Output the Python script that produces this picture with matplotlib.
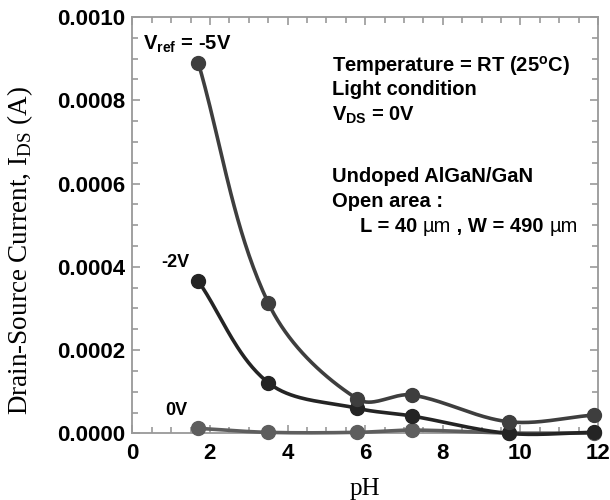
import numpy as np
import matplotlib
matplotlib.use('Agg')
import matplotlib.pyplot as plt
from matplotlib.ticker import MultipleLocator, FormatStrFormatter

plt.rcParams['font.family'] = ['Liberation Sans', 'DejaVu Sans']
plt.rcParams['mathtext.fontset'] = 'custom'
plt.rcParams['mathtext.rm'] = 'Liberation Serif'
plt.rcParams['mathtext.bf'] = 'Liberation Sans:bold'
plt.rcParams['mathtext.default'] = 'bf'

# data
ph = [1.7, 3.5, 5.8, 7.2, 9.7, 11.9]
ids_m5 = [0.000890, 0.000314, 0.0000826, 0.0000922, 0.000028, 0.0000442]
ids_m2 = [0.000366, 0.000122, 0.0000602, 0.0000418, 0.0, 0.0000025]
ids_0 = [0.0000122, 0.0000025, 0.0000025, 0.000008, 0.000001, 0.000001]

series = [
    ('0V', ids_0, '#5e5e5e'),
    ('-2V', ids_m2, '#242424'),
    ('-5V', ids_m5, '#3e3e3e'),
]


def smooth_line(x, y, sx=38.8, sy=416700.0, n=40):
    """smoothed line: bezier segments, tangent from the neighbours,
    arm length from the segment length (worked out in screen-like units)"""
    p = np.column_stack([np.asarray(x) * sx, np.asarray(y) * sy]).astype(float)
    k = len(p)
    tang = np.zeros_like(p)
    for i in range(k):
        a = p[max(i - 1, 0)]
        b = p[min(i + 1, k - 1)]
        d = b - a
        tang[i] = d / np.hypot(*d)
    t = np.linspace(0, 1, n)[:, None]
    out = []
    for i in range(k - 1):
        p1, p2 = p[i], p[i + 1]
        L = np.hypot(*(p2 - p1))
        c1 = p1 + tang[i] * L / 3
        c2 = p2 - tang[i + 1] * L / 3
        seg = ((1 - t) ** 3 * p1 + 3 * (1 - t) ** 2 * t * c1
               + 3 * (1 - t) * t ** 2 * c2 + t ** 3 * p2)
        out.append(seg)
    out = np.vstack(out)
    return out[:, 0] / sx, out[:, 1] / sy


fig = plt.figure(figsize=(6.1, 5.0), dpi=100)
ax = fig.add_axes([0.2169, 0.1332, 0.7634, 0.8328])

for name, vals, col in series:
    xs, ys = smooth_line(ph, vals)
    ax.plot(xs, ys, color=col, lw=2.6, clip_on=False, zorder=3)
    ax.plot(ph, vals, 'o', color=col, ms=10, clip_on=False, zorder=4)

ax.set_xlim(0, 12)
ax.set_ylim(0, 0.001)
ax.xaxis.set_major_locator(MultipleLocator(2))
ax.xaxis.set_minor_locator(MultipleLocator(0.5))
ax.yaxis.set_major_locator(MultipleLocator(0.0002))
ax.yaxis.set_minor_locator(MultipleLocator(0.00005))
ax.yaxis.set_major_formatter(FormatStrFormatter('%.4f'))

ax.tick_params(which='both', direction='in', top=True, right=True,
               color='#999999', width=1.2)
ax.tick_params(which='major', length=6, labelsize=16)
ax.tick_params(axis='x', which='major', pad=7)
ax.tick_params(axis='y', which='major', pad=5)
ax.tick_params(which='minor', length=4)
for lab in ax.get_xticklabels() + ax.get_yticklabels():
    lab.set_fontweight('bold')
for sp in ax.spines.values():
    sp.set_color('#999999')
    sp.set_linewidth(1.3)

ax.set_xlabel('pH', fontsize=18, family='Liberation Serif')
ax.xaxis.set_label_coords(0.5, -0.108)
ax.set_ylabel(r'Drain-Source Current, I$_{\mathrm{DS}}$ (A)', fontsize=19.5,
              family='Liberation Serif')
ax.yaxis.set_label_coords(-0.21, 0.44)

# curve labels
ax.text(0.28, 0.000922, r'V$_{\mathbf{ref}}$ = -5V', fontsize=14.5,
        fontweight='bold', va='baseline')
ax.text(1.1, 0.000411, '-2V', fontsize=13, fontweight='bold',
        ha='center', va='center')
ax.text(1.14, 0.0000545, '0V', fontsize=13, fontweight='bold',
        ha='center', va='center')

# condition block
fs = 14.5
kw = dict(fontsize=fs, fontweight='bold', va='baseline')
ax.text(5.15, 0.000868, r'Temperature = RT (25$^{\mathbf{o}}$C)', **kw)
ax.text(5.15, 0.000812, 'Light condition', **kw)
ax.text(5.15, 0.000752, r'V$_{\mathbf{DS}}$ = 0V', **kw)
ax.text(5.15, 0.000604, 'Undoped AlGaN/GaN', **kw)
ax.text(5.15, 0.000544, 'Open area :', **kw)

t = ax.text(5.87, 0.000484, 'L = 40 ', **kw)
parts = [('\u00b5m', 'normal'), (' , W = 490 ', 'bold'), ('\u00b5m', 'normal')]
prev = t
for s, w in parts:
    prev = ax.annotate(s, xy=(1, 0), xycoords=prev, va='bottom',
                       fontsize=fs, fontweight=w)

fig.savefig('out.png', dpi=100, facecolor='white')
